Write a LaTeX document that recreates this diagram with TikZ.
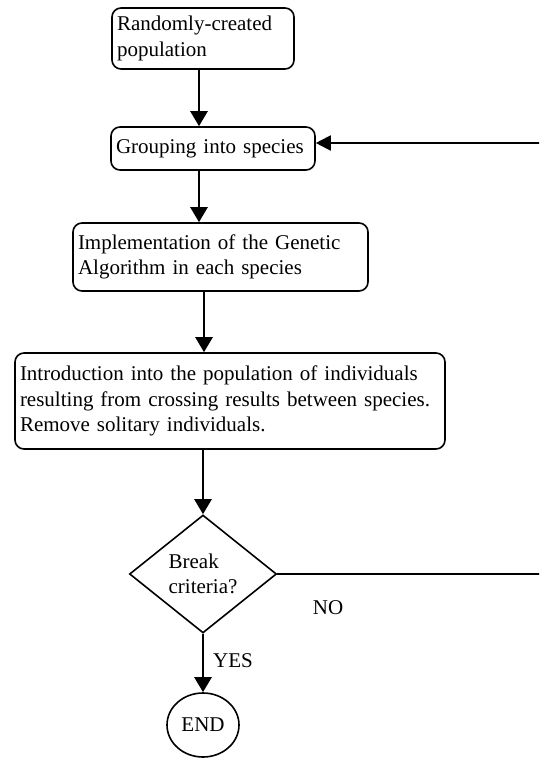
\documentclass[tikz,border=0pt]{standalone}
\usepackage{fontspec}
\setmainfont{Liberation Serif}
\usetikzlibrary{shapes.geometric,arrows.meta}
\begin{document}
\begin{tikzpicture}[x=1pt,y=-1pt,
  txt/.style={font=\fontsize{21}{25.5}\selectfont},
  box/.style={txt,draw,line width=1.6pt,rounded corners=9pt,inner xsep=5pt,inner ysep=0pt,align=left},
  arr/.style={line width=2.6pt,-{Triangle[length=15pt,width=17pt]}},
  back/.style={line width=2pt,-{Triangle[length=15pt,width=15pt]}},
  lbl/.style={txt,inner sep=0pt}]
\useasboundingbox (0,0) rectangle (539,760);
\clip (0,0) rectangle (539,760);
\node[box,minimum width=182pt,minimum height=61pt,text width=172pt] (b1) at (203,38.5) {Randomly-created\\population};
\node[box,minimum width=204pt,minimum height=43pt,text width=194pt] (b2) at (213,148.5) {Grouping into species};
\node[box,minimum width=295pt,minimum height=68pt,text width=285pt] (b3) at (220.5,257) {Implementation of the Genetic\\Algorithm in each species};
\node[box,minimum width=430pt,minimum height=96pt,text width=420pt] (b4) at (230,401) {Introduction into the population of individuals\\resulting from crossing results between species.\\Remove solitary individuals.};
\node[txt,diamond,draw,line width=1.6pt,aspect=1.25,minimum width=147pt,minimum height=118pt,inner sep=0pt,align=left] (d) at (203,574) {Break\\criteria?};
\node[txt,ellipse,draw,line width=1.6pt,minimum width=72pt,minimum height=64pt,inner sep=0pt] (e) at (203,725) {END};
\draw[arr] ([xshift=-4pt]b1.south) -- ([xshift=-4pt]b1.south |- b2.north);
\draw[arr] ([xshift=-14pt]b2.south) -- ([xshift=-14pt]b2.south |- b3.north);
\draw[arr] ([xshift=-16.5pt]b3.south) -- ([xshift=-16.5pt]b3.south |- b4.north);
\draw[arr] (b4.south -| d.north) -- (d.north);
\draw[arr] (d.south) -- (e.north);
\coordinate (c1) at (541,574);
\coordinate (c2) at (541,143);
\draw[back] (d.east) -- (c1) -- (c2) -- (c2 -| b2.east);
\node[lbl] (no) at (328,608) {NO};
\node[lbl] (yes) at (233,661) {YES};
\end{tikzpicture}
\end{document}
